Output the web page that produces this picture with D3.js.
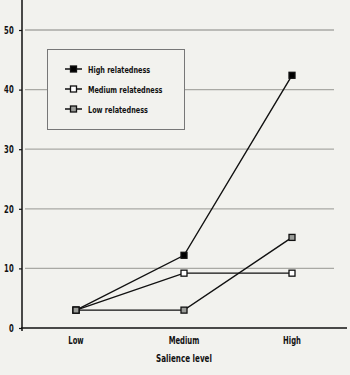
<!DOCTYPE html>
<html>
<head>
<meta charset="utf-8">
<script src="https://d3js.org/d3.v7.min.js"></script>
<style>
  body { margin: 0; background: #f2f2ee; }
  svg { display: block; }
  text { font-family: "Liberation Sans Narrow", "DejaVu Sans Condensed", sans-serif; font-weight: bold; fill: #111; }
</style>
</head>
<body>
<script>
const levels = ["Low", "Medium", "High"];
const high = [3, 12.2, 42.4];
const medium = [3, 9.2, 9.2];
const low = [3, 3, 15.2];
const seriesNames = ["High relatedness", "Medium relatedness", "Low relatedness"];
const yTicks = [0, 10, 20, 30, 40, 50];

const series = [
  { name: seriesNames[0], values: high, fill: "#000" },
  { name: seriesNames[1], values: medium, fill: "#fff" },
  { name: seriesNames[2], values: low, fill: "#9a9c98" }
];

const width = 350, height = 375;
const sx = 0.76; // narrow the type to look like the condensed face of the original
const svg = d3.select("body").append("svg")
  .attr("width", width).attr("height", height)
  .style("background", "#f2f2ee");

const x = d3.scaleBand().domain(levels).range([22, 346]);
const y = d3.scaleLinear().domain([0, 50]).range([328, 30]);

// gridlines
svg.append("g").selectAll("line")
  .data(yTicks.filter(d => d > 0))
  .join("line")
  .attr("x1", 25).attr("x2", 334)
  .attr("y1", d => y(d)).attr("y2", d => y(d))
  .attr("stroke", "#a9a9a4").attr("stroke-width", 1.3);

// y axis
const yAxis = svg.append("g")
  .attr("transform", "translate(22,0)")
  .call(d3.axisLeft(y).tickValues(yTicks).tickSize(3).tickPadding(8));
yAxis.select(".domain").remove();
yAxis.selectAll(".tick line").attr("stroke", "#111").attr("stroke-width", 1.2);
yAxis.selectAll("text").style("font-size", "10px").attr("transform", `scale(${sx},1)`);
svg.append("line")
  .attr("x1", 22).attr("x2", 22).attr("y1", 0).attr("y2", 331)
  .attr("stroke", "#111").attr("stroke-width", 1.5);

// x axis
const xAxis = svg.append("g")
  .attr("transform", "translate(0,328)")
  .call(d3.axisBottom(x).tickSize(0).tickPadding(9));
xAxis.select(".domain").remove();
xAxis.selectAll(".tick text")
  .style("font-size", "10px")
  .attr("transform", `scale(${sx},1)`);
svg.append("line")
  .attr("x1", 21).attr("x2", 347).attr("y1", 328).attr("y2", 328)
  .attr("stroke", "#111").attr("stroke-width", 1.5);

svg.append("text")
  .attr("transform", `translate(184,362) scale(${sx},1)`)
  .attr("text-anchor", "middle")
  .style("font-size", "10.5px")
  .text("Salience level");

const cx = d => x(d) + x.bandwidth() / 2;
const line = d3.line()
  .x((v, i) => cx(levels[i]))
  .y(v => y(v));

// lines
svg.append("g").selectAll("path")
  .data(series)
  .join("path")
  .attr("d", d => line(d.values))
  .attr("fill", "none")
  .attr("stroke", "#111")
  .attr("stroke-width", 1.4);

// markers
const ms = 5;
series.forEach(s => {
  svg.append("g").selectAll("rect")
    .data(s.values)
    .join("rect")
    .attr("x", (v, i) => cx(levels[i]) - ms / 2 - 0.5)
    .attr("y", v => y(v) - ms / 2 - 0.5)
    .attr("width", ms + 1).attr("height", ms + 1)
    .attr("fill", s.fill)
    .attr("stroke", "#111").attr("stroke-width", 1.3);
});

// legend
const lg = svg.append("g");
lg.append("rect")
  .attr("x", 47.5).attr("y", 49.5).attr("width", 137).attr("height", 80)
  .attr("fill", "#f2f2ee").attr("stroke", "#777").attr("stroke-width", 1);
series.forEach((s, i) => {
  const ly = 69 + i * 20;
  lg.append("line")
    .attr("x1", 65).attr("x2", 82).attr("y1", ly).attr("y2", ly)
    .attr("stroke", "#111").attr("stroke-width", 1.5);
  lg.append("rect")
    .attr("x", 70.5).attr("y", ly - 3).attr("width", 6).attr("height", 6)
    .attr("fill", s.fill).attr("stroke", "#111").attr("stroke-width", 1.3);
  lg.append("text")
    .attr("transform", `translate(88,${ly + 3.5}) scale(${sx},1)`)
    .style("font-size", "9.5px")
    .text(s.name);
});
</script>
</body>
</html>
